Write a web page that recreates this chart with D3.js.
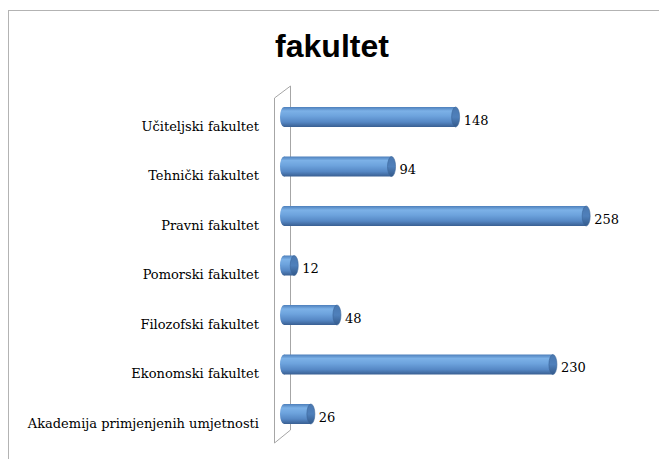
<!DOCTYPE html>
<html><head><meta charset="utf-8">
<script src="https://cdn.jsdelivr.net/npm/d3@7"></script>
<style>html,body{margin:0;padding:0;background:#fff;}svg{display:block;}</style>
</head><body>
<svg id="c" width="659" height="459"></svg>
<script>
const categories = ["Učiteljski fakultet","Tehnički fakultet","Pravni fakultet","Pomorski fakultet","Filozofski fakultet","Ekonomski fakultet","Akademija primjenjenih umjetnosti"];
const values = [148, 94, 258, 12, 48, 230, 26];
const title = "fakultet";

const svg = d3.select("#c");
const defs = svg.append("defs");
const g1 = defs.append("linearGradient").attr("id","cyl").attr("x1",0).attr("y1",0).attr("x2",0).attr("y2",1);
[[0,"#4d7fbb"],[0.2,"#7cb1e7"],[0.45,"#6da3dd"],[0.75,"#5688c5"],[1,"#395f92"]].forEach(s=>g1.append("stop").attr("offset",s[0]).attr("stop-color",s[1]));
const g2 = defs.append("linearGradient").attr("id","cap").attr("x1",0).attr("y1",0).attr("x2",0).attr("y2",1);
[[0,"#4a78b0"],[0.5,"#4f80bb"],[1,"#33598a"]].forEach(s=>g2.append("stop").attr("offset",s[0]).attr("stop-color",s[1]));

// outer border
svg.append("rect").attr("x",8.5).attr("y",10.5).attr("width",700).attr("height",500)
  .attr("fill","none").attr("stroke","#b3b3b3").attr("stroke-width",1);

svg.append("text").attr("x",332).attr("y",57).attr("text-anchor","middle")
  .attr("font-family","Liberation Sans, Arial, sans-serif").attr("font-weight","bold")
  .attr("font-size",32).attr("fill","#000").text(title);

const x = d3.scaleLinear().domain([0,300]).range([284,640]);
const y = d3.scalePoint().domain(categories).range([117,414]);
const bh = 20, rx = 4;

// back wall
const wall = svg.append("g").attr("stroke","#a6a6a6").attr("fill","none").attr("stroke-width",1);
wall.append("path").attr("d","M274.5,98 L290.5,86 L290.5,430 L274.5,443 Z");

// category labels
svg.append("g").selectAll("text").data(categories).join("text")
  .attr("x",259).attr("y",d=>y(d)+9).attr("dy","0.35em").attr("text-anchor","end")
  .attr("font-family","DejaVu Serif, serif").attr("font-size",13).attr("fill","#000")
  .text(d=>d);

const bars = svg.append("g").selectAll("g").data(categories).join("g");
bars.append("rect")
  .attr("x",x(0)).attr("y",d=>y(d)-bh/2)
  .attr("width",(d,i)=>Math.max(0,x(values[i])-rx-x(0))).attr("height",bh)
  .attr("fill","url(#cyl)");
bars.append("ellipse").attr("cx",x(0)).attr("cy",d=>y(d)).attr("rx",rx).attr("ry",bh/2).attr("fill","url(#cyl)");
bars.append("ellipse").attr("cx",(d,i)=>x(values[i])-rx).attr("cy",d=>y(d)).attr("rx",rx).attr("ry",bh/2)
  .attr("fill","url(#cap)").attr("stroke","#3a6499").attr("stroke-width",0.6);

svg.append("g").selectAll("text").data(categories).join("text")
  .attr("x",(d,i)=>x(values[i])+4).attr("y",d=>y(d)+3).attr("dy","0.35em")
  .attr("font-family","DejaVu Serif, serif").attr("font-size",13).attr("fill","#000")
  .text((d,i)=>values[i]);
</script>
</body></html>
